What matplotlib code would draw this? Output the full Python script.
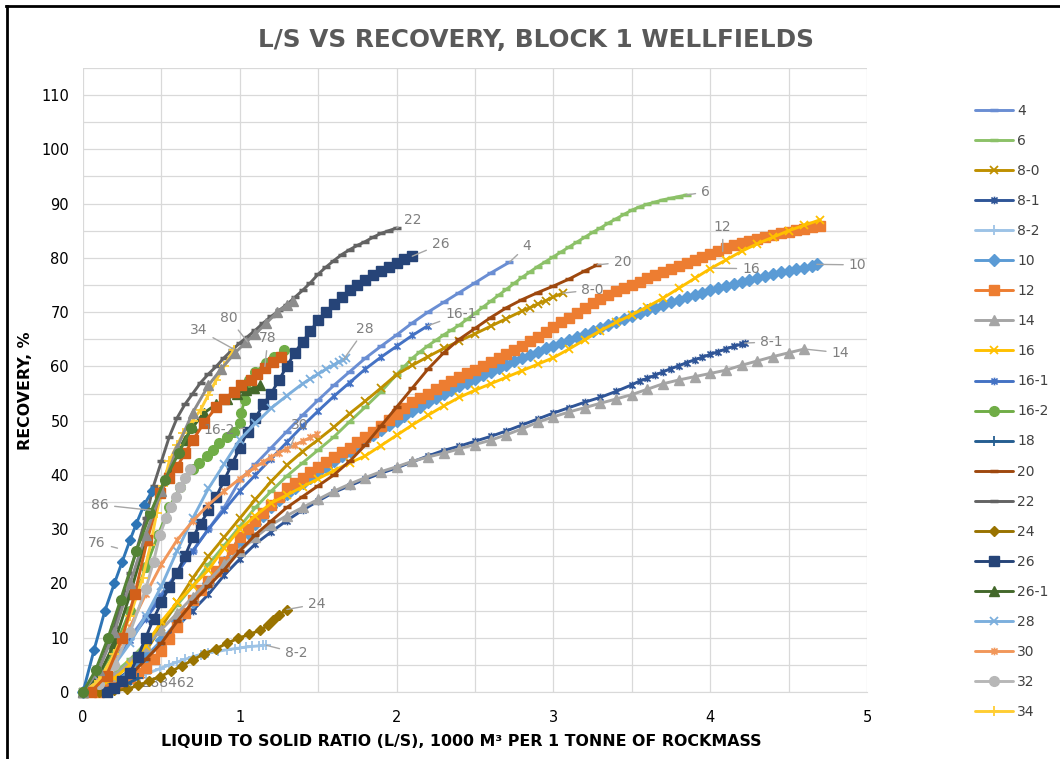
import matplotlib
matplotlib.use('Agg')
import matplotlib.pyplot as plt
import numpy as np
from matplotlib.path import Path
from matplotlib.lines import Line2D

# ---------------- data ----------------
s4_x = [0, 0.1, 0.2, 0.3, 0.4, 0.5, 0.6, 0.7, 0.8, 0.9, 1.0, 1.1, 1.2, 1.3, 1.4, 1.5, 1.6, 1.7, 1.8, 1.9, 2.0, 2.1, 2.2, 2.3, 2.4, 2.5, 2.6, 2.72]
s4_y = [0, 2.5, 6, 10, 14, 18, 22, 26, 30, 34, 39, 42, 45, 48, 51, 53.8, 56.5, 59, 61.5, 63.7, 65.8, 68, 70, 71.8, 73.6, 75.4, 77.2, 79.2]

s6_x = [0, 0.1, 0.2, 0.3, 0.4, 0.5, 0.6, 0.7, 0.8, 0.9, 1.0, 1.1, 1.2, 1.3, 1.4, 1.5, 1.6, 1.7, 1.8, 1.9, 2.0, 2.05, 2.1, 2.15, 2.2, 2.25, 2.3, 2.35, 2.4, 2.45, 2.5, 2.55, 2.6, 2.65, 2.7, 2.75, 2.8, 2.85, 2.9, 2.95, 3.0, 3.05, 3.1, 3.15, 3.2, 3.25, 3.3, 3.35, 3.4, 3.45, 3.5, 3.55, 3.6, 3.65, 3.7, 3.75, 3.8, 3.85]
s6_y = [0, 1.5, 3.5, 6, 9, 12.5, 16, 19.5, 23.5, 27, 30.5, 34, 37, 39.8, 42.2, 44.6, 47, 49.8, 52.5, 55.3, 58.5, 60, 61.5, 62.7, 63.8, 64.8, 65.8, 66.7, 67.6, 68.7, 69.8, 70.9, 72, 73.1, 74.2, 75.3, 76.4, 77.4, 78.4, 79.3, 80.2, 81.1, 82, 82.9, 83.8, 84.7, 85.5, 86.4, 87.2, 88, 88.8, 89.4, 89.9, 90.3, 90.7, 91, 91.3, 91.6]

s80_x = [0.1, 0.2, 0.3, 0.4, 0.5, 0.6, 0.7, 0.8, 0.9, 1.0, 1.1, 1.2, 1.3, 1.4, 1.5, 1.6, 1.7, 1.8, 1.9, 2.0, 2.1, 2.2, 2.3, 2.4, 2.5, 2.6, 2.7, 2.8, 2.85, 2.9, 2.95, 3.0, 3.06]
s80_y = [0, 1.5, 4, 7.5, 12, 16.5, 21, 25, 28.5, 32, 35.5, 38.8, 41.8, 44.3, 46.5, 48.8, 51.3, 53.6, 56, 58.5, 60.2, 61.8, 63.3, 64.7, 66, 67.4, 68.8, 70.2, 70.8, 71.5, 72.1, 72.8, 73.5]

s81_x = [0, 0.1, 0.2, 0.3, 0.4, 0.5, 0.6, 0.7, 0.8, 0.9, 1.0, 1.1, 1.2, 1.3, 1.4, 1.5, 1.6, 1.7, 1.8, 1.9, 2.0, 2.1, 2.2, 2.3, 2.4, 2.5, 2.6, 2.7, 2.8, 2.9, 3.0, 3.1, 3.2, 3.3, 3.4, 3.5, 3.55, 3.6, 3.65, 3.7, 3.75, 3.8, 3.85, 3.9, 3.95, 4.0, 4.05, 4.1, 4.15, 4.2, 4.22]
s81_y = [0, 0.5, 2, 4, 6, 9, 12, 15, 18, 21.5, 24.5, 27.3, 29.5, 31.6, 33.5, 35.2, 36.8, 38, 39.2, 40.3, 41.3, 42.4, 43.5, 44.5, 45.3, 46.2, 47.1, 48.1, 49.2, 50.3, 51.4, 52.4, 53.4, 54.3, 55.4, 56.6, 57.3, 57.8, 58.4, 59, 59.6, 60.1, 60.7, 61.2, 61.7, 62.2, 62.7, 63.2, 63.7, 64.1, 64.3]

s82_x = [0, 0.09, 0.17, 0.25, 0.32, 0.4, 0.49, 0.55, 0.6, 0.65, 0.7, 0.75, 0.8, 0.86, 0.92, 0.97, 1.0, 1.04, 1.08, 1.12, 1.15, 1.17]
s82_y = [0, 0.1, 0.5, 1.3, 2.3, 3.3, 4.3, 5.0, 5.5, 6.0, 6.5, 6.9, 7.2, 7.5, 7.8, 8.0, 8.1, 8.3, 8.4, 8.5, 8.6, 8.6]

s10_x = [0, 0.1, 0.2, 0.3, 0.4, 0.5, 0.6, 0.7, 0.8, 0.9, 1.0, 1.05, 1.1, 1.15, 1.2, 1.25, 1.3, 1.35, 1.4, 1.45, 1.5, 1.55, 1.6, 1.65, 1.7, 1.75, 1.8, 1.85, 1.9, 1.95, 2.0, 2.05, 2.1, 2.15, 2.2, 2.25, 2.3, 2.35, 2.4, 2.45, 2.5, 2.55, 2.6, 2.65, 2.7, 2.75, 2.8, 2.85, 2.9, 2.95, 3.0, 3.05, 3.1, 3.15, 3.2, 3.25, 3.3, 3.35, 3.4, 3.45, 3.5, 3.55, 3.6, 3.65, 3.7, 3.75, 3.8, 3.85, 3.9, 3.95, 4.0, 4.05, 4.1, 4.15, 4.2, 4.25, 4.3, 4.35, 4.4, 4.45, 4.5, 4.55, 4.6, 4.65, 4.68]
s10_y = [0, 0.5, 1.5, 4, 6.5, 9.5, 13, 16.5, 20, 24, 27.5, 29.3, 31, 32.5, 34, 35.3, 36.5, 37.5, 38.5, 39.5, 40.5, 41.5, 42.5, 43.5, 44.5, 45.5, 46.5, 47.4, 48.3, 49.2, 50, 50.9, 51.8, 52.6, 53.4, 54.2, 55, 55.7, 56.4, 57, 57.7, 58.4, 59, 59.7, 60.3, 60.9, 61.5, 62.1, 62.7, 63.3, 63.8, 64.4, 64.9, 65.5, 66, 66.6, 67.1, 67.7, 68.2, 68.8, 69.3, 69.8, 70.3, 70.8, 71.3, 71.8, 72.2, 72.7, 73.1, 73.6, 74, 74.4, 74.8, 75.2, 75.6, 76, 76.3, 76.7, 77, 77.3, 77.6, 77.9, 78.2, 78.5, 78.8]

s12_x = [0.1, 0.15, 0.2, 0.25, 0.3, 0.35, 0.4, 0.45, 0.5, 0.55, 0.6, 0.65, 0.7, 0.75, 0.8, 0.85, 0.9, 0.95, 1.0, 1.05, 1.1, 1.15, 1.2, 1.25, 1.3, 1.35, 1.4, 1.45, 1.5, 1.55, 1.6, 1.65, 1.7, 1.75, 1.8, 1.85, 1.9, 1.95, 2.0, 2.05, 2.1, 2.15, 2.2, 2.25, 2.3, 2.35, 2.4, 2.45, 2.5, 2.55, 2.6, 2.65, 2.7, 2.75, 2.8, 2.85, 2.9, 2.95, 3.0, 3.05, 3.1, 3.15, 3.2, 3.25, 3.3, 3.35, 3.4, 3.45, 3.5, 3.55, 3.6, 3.65, 3.7, 3.75, 3.8, 3.85, 3.9, 3.95, 4.0, 4.05, 4.1, 4.15, 4.2, 4.25, 4.3, 4.35, 4.4, 4.45, 4.5, 4.55, 4.6, 4.65, 4.7]
s12_y = [0, 0.5, 1, 1.7, 2.5, 3.5, 4.5, 6, 7.5, 9.7, 12, 14.5, 17, 18.8, 20.5, 22.3, 24, 26.3, 28.5, 30, 31.5, 33, 34.5, 36, 37.5, 38.5, 39.5, 40.5, 41.5, 42.4, 43.3, 44.2, 45, 46, 47, 48, 49, 50.2, 51.3, 52.4, 53.4, 54.2, 55, 55.8, 56.5, 57.3, 58, 58.7, 59.4, 60.1, 60.8, 61.5, 62.2, 63, 63.8, 64.7, 65.5, 66.4, 67.2, 68.1, 69, 69.9, 70.8, 71.7, 72.5, 73.2, 73.8, 74.4, 75, 75.6, 76.2, 76.8, 77.4, 78, 78.5, 79, 79.6, 80.2, 80.8, 81.3, 81.8, 82.3, 82.7, 83.1, 83.5, 83.9, 84.2, 84.5, 84.8, 85.1, 85.3, 85.6, 85.8]

s14_x = [0, 0.1, 0.2, 0.3, 0.4, 0.5, 0.6, 0.7, 0.8, 0.9, 1.0, 1.1, 1.2, 1.3, 1.4, 1.5, 1.6, 1.7, 1.8, 1.9, 2.0, 2.1, 2.2, 2.3, 2.4, 2.5, 2.6, 2.7, 2.8, 2.9, 3.0, 3.1, 3.2, 3.3, 3.4, 3.5, 3.6, 3.7, 3.8, 3.9, 4.0, 4.1, 4.2, 4.3, 4.4, 4.5, 4.6]
s14_y = [0, 1, 3, 5.5, 8.5, 11.5, 14.5, 17.5, 20.5, 23.5, 26, 28.5, 30.8, 32.5, 34, 35.5, 37, 38.3, 39.5, 40.6, 41.5, 42.5, 43.3, 44, 44.8, 45.6, 46.4, 47.4, 48.5, 49.7, 50.7, 51.6, 52.4, 53.2, 54, 54.8, 55.8, 56.8, 57.5, 58.1, 58.7, 59.3, 60.2, 61, 61.8, 62.5, 63.2]

s16_x = [0, 0.1, 0.2, 0.3, 0.4, 0.5, 0.6, 0.7, 0.8, 0.9, 1.0, 1.1, 1.2, 1.3, 1.4, 1.5, 1.6, 1.7, 1.8, 1.9, 2.0, 2.1, 2.2, 2.3, 2.4, 2.5, 2.6, 2.7, 2.8, 2.9, 3.0, 3.1, 3.2, 3.3, 3.4, 3.5, 3.6, 3.7, 3.8, 3.9, 4.0, 4.1, 4.2, 4.3, 4.4, 4.5, 4.6, 4.7]
s16_y = [0, 1, 2.5, 5, 8.5, 13, 16.5, 19.5, 22.5, 26.5, 30, 32.5, 34.8, 36.3, 37.8, 39.3, 40.8, 42.2, 43.5, 45.4, 47.3, 49.2, 51, 52.7, 54.3, 55.6, 56.8, 58, 59.2, 60.4, 61.6, 63.2, 64.9, 66.6, 68.1, 69.5, 71, 72.6, 74.4, 76.2, 78, 79.6, 81.2, 82.6, 83.8, 85, 86, 87]

s161_x = [0, 0.1, 0.2, 0.3, 0.4, 0.5, 0.6, 0.7, 0.8, 0.9, 1.0, 1.1, 1.2, 1.3, 1.4, 1.5, 1.6, 1.7, 1.8, 1.9, 2.0, 2.1, 2.2]
s161_y = [0, 2, 5.5, 9.5, 13.5, 17.5, 22, 26, 30, 33.5, 37, 40, 43, 46, 49, 51.8, 54.5, 57, 59.5, 61.7, 63.7, 65.7, 67.5]

s162_x = [0, 0.1, 0.2, 0.3, 0.4, 0.48, 0.55, 0.62, 0.7, 0.74, 0.79, 0.83, 0.87, 0.92, 0.96, 1.0, 1.01, 1.03, 1.045, 1.06, 1.1, 1.17, 1.22, 1.28]
s162_y = [0, 3, 8, 15, 23, 29, 34, 37.8, 41, 42.2, 43.4, 44.6, 45.8, 47, 48, 49.5, 51.5, 53.8, 55.6, 57.5, 59, 60.6, 61.8, 63]

s18_x = [0.05, 0.12, 0.2, 0.28, 0.35]
s18_y = [0, 0.3, 0.8, 1.5, 2.5]

s20_x = [0.1, 0.2, 0.3, 0.4, 0.5, 0.6, 0.7, 0.8, 0.9, 1.0, 1.1, 1.2, 1.3, 1.4, 1.5, 1.6, 1.7, 1.8, 1.9, 2.0, 2.1, 2.2, 2.3, 2.4, 2.5, 2.6, 2.7, 2.8, 2.9, 3.0, 3.1, 3.2, 3.28]
s20_y = [0, 1.2, 3, 6, 9, 13, 16.5, 19.5, 22.5, 26, 29, 31.5, 34, 36, 38, 40, 42.5, 45.5, 49, 52.5, 56, 59.5, 62.5, 65, 67, 69, 70.8, 72.3, 73.6, 74.8, 76.1, 77.6, 78.7]

s22_x = [0, 0.1, 0.2, 0.3, 0.4, 0.45, 0.5, 0.55, 0.6, 0.65, 0.7, 0.75, 0.8, 0.85, 0.9, 0.95, 1.0, 1.05, 1.1, 1.15, 1.2, 1.25, 1.3, 1.35, 1.4, 1.45, 1.5, 1.55, 1.6, 1.65, 1.7, 1.75, 1.8, 1.85, 1.9, 1.95, 2.0]
s22_y = [0, 4, 12, 22, 32, 38, 42.5, 47, 50.5, 53, 55, 57, 58.6, 60, 61.6, 63, 64.3, 65.5, 66.7, 68, 69.2, 70.3, 71.4, 72.7, 74, 75.4, 77, 78.3, 79.5, 80.6, 81.5, 82.3, 83, 83.8, 84.5, 85, 85.5]

s24_x = [0.1, 0.2, 0.28, 0.35, 0.42, 0.49, 0.56, 0.63, 0.7, 0.77, 0.85, 0.92, 0.99, 1.06, 1.13, 1.18, 1.21, 1.25, 1.3]
s24_y = [0, 0.3, 0.5, 1.2, 2, 2.8, 3.8, 4.8, 5.9, 7, 8, 9, 9.9, 10.6, 11.4, 12.3, 13.3, 14.2, 15.2]

s26_x = [0.15, 0.2, 0.25, 0.3, 0.35, 0.4, 0.45, 0.5, 0.55, 0.6, 0.65, 0.7, 0.75, 0.8, 0.85, 0.9, 0.95, 1.0, 1.05, 1.1, 1.15, 1.2, 1.25, 1.3, 1.35, 1.4, 1.45, 1.5, 1.55, 1.6, 1.65, 1.7, 1.75, 1.8, 1.85, 1.9, 1.95, 2.0, 2.05, 2.1]
s26_y = [0, 0.8, 2, 3.5, 6.5, 10, 13.5, 16.5, 19.4, 22, 25, 28.5, 31, 33.5, 36, 39, 42, 45, 48, 50.5, 53, 55, 57.5, 60, 62.5, 64.5, 66.5, 68.5, 70, 71.5, 72.8, 74, 75, 76, 76.8, 77.5, 78.3, 79, 79.7, 80.3]

s261_x = [0, 0.1, 0.2, 0.3, 0.4, 0.49, 0.55, 0.6, 0.65, 0.7, 0.77, 0.85, 0.92, 0.98, 1.04, 1.09, 1.13]
s261_y = [0, 3, 9, 18, 28, 37, 41, 44, 46.5, 48.8, 51.4, 53, 54, 55, 55.6, 56, 56.5]

s28_x = [0, 0.1, 0.2, 0.3, 0.4, 0.5, 0.6, 0.7, 0.8, 0.9, 1.0, 1.1, 1.2, 1.3, 1.4, 1.45, 1.5, 1.55, 1.6, 1.63, 1.66, 1.68]
s28_y = [0, 2, 5, 9, 14, 19.5, 26, 32, 37.5, 42, 46.5, 49.5, 52.3, 54.6, 56.8, 57.7, 58.6, 59.5, 60.3, 60.8, 61.2, 61.5]

s30_x = [0, 0.1, 0.2, 0.3, 0.4, 0.5, 0.6, 0.7, 0.8, 0.9, 1.0, 1.05, 1.1, 1.15, 1.2, 1.25, 1.3, 1.35, 1.4, 1.45, 1.49]
s30_y = [0, 2, 6.5, 12, 18, 23.5, 28, 31.5, 34.5, 37, 39.3, 40.4, 41.5, 42.4, 43.3, 44.1, 44.8, 45.5, 46.2, 46.9, 47.5]

s32_x = [0, 0.1, 0.2, 0.3, 0.4, 0.45, 0.49, 0.53, 0.56, 0.59, 0.62, 0.65, 0.68]
s32_y = [0, 1.5, 5, 11, 19, 24, 29, 32, 34, 36, 37.8, 39.5, 41]

s34_x = [0, 0.1, 0.2, 0.3, 0.38, 0.43, 0.47, 0.51, 0.55, 0.6, 0.64, 0.7, 0.75, 0.8, 0.85, 0.9, 0.96]
s34_y = [0, 2, 7, 14, 21, 27, 33, 38, 42.5, 45.5, 47.7, 50, 52, 54.8, 57.5, 60, 63]

# series that appear on the chart without a legend entry
x76_x = [0, 0.07, 0.14, 0.2, 0.25, 0.3, 0.34, 0.39, 0.44]
x76_y = [0, 7.7, 15, 20, 24, 28, 31, 34.5, 37]

x78_x = [0.05, 0.15, 0.25, 0.33, 0.41, 0.49, 0.55, 0.6, 0.65, 0.7, 0.77, 0.85, 0.9, 0.96, 1.01, 1.07, 1.11, 1.16, 1.21, 1.26]
x78_y = [0, 3, 10, 18, 28, 36.6, 39.5, 41.5, 44, 46.4, 49.5, 52.5, 54, 55.3, 56.5, 57.5, 58.6, 59.7, 60.8, 61.8]

x80_x = [0, 0.1, 0.2, 0.3, 0.4, 0.5, 0.6, 0.7, 0.8, 0.88, 0.97, 1.04, 1.1, 1.17, 1.24, 1.3, 1.34]
x80_y = [0, 4, 11, 20, 29, 37, 45, 51.5, 56.5, 59.5, 62.5, 64.5, 66, 68, 70, 71.3, 72]

x86_x = [0, 0.08, 0.16, 0.24, 0.34, 0.43, 0.52, 0.61, 0.69]
x86_y = [0, 4, 10, 17, 26, 33, 39, 44, 48.6]

legend_names = ['4', '6', '8-0', '8-1', '8-2', '10', '12', '14', '16', '16-1', '16-2',
                '18', '20', '22', '24', '26', '26-1', '28', '30', '32', '34']
extra_names = ['76', '78', '80', '86']

x_ticks = [0, 1, 2, 3, 4, 5]
y_ticks = [0, 10, 20, 30, 40, 50, 60, 70, 80, 90, 100, 110]

series = {
    '4': (s4_x, s4_y), '6': (s6_x, s6_y), '8-0': (s80_x, s80_y), '8-1': (s81_x, s81_y),
    '8-2': (s82_x, s82_y), '10': (s10_x, s10_y), '12': (s12_x, s12_y), '14': (s14_x, s14_y),
    '16': (s16_x, s16_y), '16-1': (s161_x, s161_y), '16-2': (s162_x, s162_y), '18': (s18_x, s18_y),
    '20': (s20_x, s20_y), '22': (s22_x, s22_y), '24': (s24_x, s24_y), '26': (s26_x, s26_y),
    '26-1': (s261_x, s261_y), '28': (s28_x, s28_y), '30': (s30_x, s30_y), '32': (s32_x, s32_y),
    '34': (s34_x, s34_y),
    '76': (x76_x, x76_y), '78': (x78_x, x78_y), '80': (x80_x, x80_y), '86': (x86_x, x86_y),
}

# ---------------- styles ----------------
ast = Path([(-1, -1), (1, 1), (-1, 1), (1, -1), (0, -1.25), (0, 1.25)],
           [Path.MOVETO, Path.LINETO, Path.MOVETO, Path.LINETO, Path.MOVETO, Path.LINETO])

style = {
    '4':    ('#6A8ED3', '_', 6, 2.5),
    '6':    ('#8CC168', '_', 6, 2.5),
    '8-0':  ('#BF9000', 'x', 5.5, 1.3),
    '8-1':  ('#2F5597', ast, 5.5, 1.2),
    '8-2':  ('#9DC3E6', '+', 7, 1.3),
    '10':   ('#5B9BD5', 'D', 6, 1),
    '12':   ('#ED7D31', 's', 6.8, 1),
    '14':   ('#A5A5A5', '^', 6.8, 1),
    '16':   ('#FFC000', 'x', 5.5, 1.3),
    '16-1': ('#4472C4', ast, 5.5, 1.2),
    '16-2': ('#70AD47', 'o', 7, 1),
    '18':   ('#255E91', '+', 7, 1.3),
    '20':   ('#9E480E', '_', 6, 2.5),
    '22':   ('#636363', '_', 6, 2.5),
    '24':   ('#997300', 'D', 5.5, 1),
    '26':   ('#264478', 's', 6.8, 1),
    '26-1': ('#43682B', '^', 6.5, 1),
    '28':   ('#7CAFDD', 'x', 5.5, 1.3),
    '30':   ('#F1975A', ast, 5.5, 1.2),
    '32':   ('#B7B7B7', 'o', 7, 1),
    '34':   ('#FFCD33', '+', 7, 1.3),
    '76':   ('#2E75B6', 'D', 5.5, 1),
    '78':   ('#D2601A', 's', 6.5, 1),
    '80':   ('#8C8C8C', '^', 6.5, 1),
    '86':   ('#548235', 'o', 7, 1),
}

# data labels: text, anchor point (x, y), text position (x, y)
labels = [
    ('22', (2.0, 85.5), (2.10, 87.0)), ('26', (2.1, 80.3), (2.28, 82.5)),
    ('4', (2.72, 79.2), (2.83, 82.2)), ('6', (3.85, 91.6), (3.97, 92.1)),
    ('16-1', (2.2, 67.5), (2.41, 69.7)), ('20', (3.28, 78.7), (3.44, 79.2)),
    ('8-0', (3.06, 73.5), (3.25, 74.1)), ('12', (4.08, 81.2), (4.08, 85.7)),
    ('16', (4.02, 78.1), (4.26, 78.0)), ('10', (4.68, 78.8), (4.94, 78.7)),
    ('8-1', (4.22, 64.3), (4.39, 64.5)), ('14', (4.6, 63.2), (4.83, 62.5)),
    ('28', (1.66, 61.2), (1.80, 66.9)), ('30', (1.32, 45.0), (1.38, 49.2)),
    ('16-2', (1.03, 48.6), (0.87, 48.3)), ('34', (0.96, 63.2), (0.74, 66.7)),
    ('80', (1.05, 64.5), (0.93, 68.9)), ('78', (1.16, 60.0), (1.18, 65.2)),
    ('86', (0.43, 33.5), (0.11, 34.5)), ('76', (0.22, 26.5), (0.09, 27.5)),
    ('24', (1.3, 15.2), (1.49, 16.2)), ('8-2', (1.17, 8.6), (1.36, 7.2)),
]

W, H = 1060, 759
fig = plt.figure(figsize=(W / 100, H / 100), dpi=100)
plt.rcParams['font.family'] = ['DejaVu Sans']

ax = fig.add_axes([83 / W, 1 - 692 / H, (867 - 83) / W, (692 - 67.9) / H])
ax.set_xlim(0, 5)
ax.set_ylim(0, 115)

handles = {}
for name in legend_names + extra_names:
    xs, ys = series[name]
    c, m, ms, mew = style[name]
    filled = m in ('D', 's', '^', 'o')
    ln, = ax.plot(xs, ys, color=c, lw=2.1, marker=m, markersize=ms,
                  markerfacecolor=c if filled else 'none', markeredgecolor=c,
                  markeredgewidth=mew, solid_capstyle='round', zorder=3,
                  clip_on=False)
    handles[name] = ln

for txt, (px, py), (tx, ty) in labels:
    ax.annotate(txt, xy=(px, py), xytext=(tx, ty), textcoords='data',
                fontsize=10, color='#7F7F7F', ha='center', va='center', zorder=5,
                arrowprops=dict(arrowstyle='-', color='#A6A6A6', lw=1.0,
                                shrinkA=2, shrinkB=0))
ax.text(0.445, 1.7, '2.30288462', fontsize=10, color='#7F7F7F',
        ha='center', va='center', zorder=2)

ax.set_xticks(x_ticks)
ax.set_yticks(y_ticks)
ax.set_xticks(np.arange(0, 5.01, 0.5), minor=True)
ax.set_yticks(np.arange(0, 115.1, 5), minor=True)
ax.grid(True, which='both', color='#D9D9D9', lw=0.9, zorder=0)
ax.set_axisbelow(True)
for s in ['top', 'right', 'left']:
    ax.spines[s].set_visible(False)
ax.spines['bottom'].set_color('#D9D9D9')
ax.tick_params(which='both', length=0)
ax.tick_params(axis='x', labelsize=10.5, pad=13, colors='black')
ax.tick_params(axis='y', labelsize=10.5, pad=10, colors='black')

fig.text(536 / W, 1 - 40 / H, 'L/S VS RECOVERY, BLOCK 1 WELLFIELDS', ha='center', va='center',
         fontsize=17.8, fontweight='bold', color='#595959')
fig.text(25 / W, 1 - 391 / H, 'RECOVERY, %', rotation=90, ha='center', va='center',
         fontsize=11.4, fontweight='bold', color='black')
fig.text(461 / W, 1 - 741 / H, 'LIQUID TO SOLID RATIO (L/S), 1000 M³ PER 1 TONNE OF ROCKMASS',
         ha='center', va='center', fontsize=11.4, fontweight='bold', color='black')

fig.legend([handles[n] for n in legend_names], legend_names, loc='upper left',
           bbox_to_anchor=(975 / W, 1 - 104 / H), frameon=False, fontsize=10,
           handlelength=2.75, handletextpad=0.3, labelspacing=1.155, borderpad=0,
           borderaxespad=0, numpoints=1, labelcolor='#404040')

# outer frame lines (top and left)
fig.add_artist(Line2D([6 / W, 1], [1 - 6 / H, 1 - 6 / H], color='black', lw=2.0,
                      transform=fig.transFigure))
fig.add_artist(Line2D([7 / W, 7 / W], [0, 1 - 6 / H], color='black', lw=2.0,
                      transform=fig.transFigure))

fig.savefig('out.png', dpi=100)
